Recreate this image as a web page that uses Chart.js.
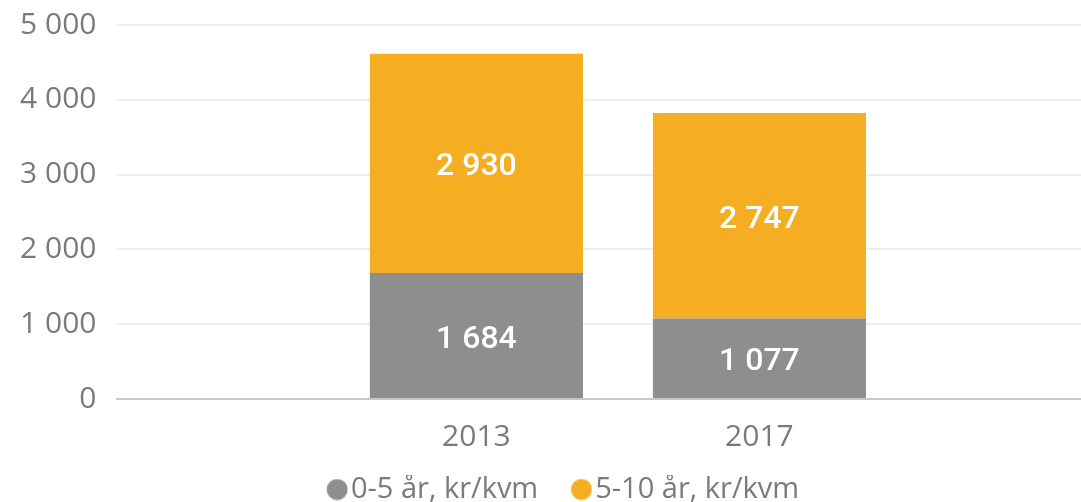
<!DOCTYPE html>
<html>
<head>
<meta charset="utf-8">
<script src="https://cdn.jsdelivr.net/npm/chart.js@4"></script>
<style>
  html, body { margin: 0; padding: 0; background: #fff; }
</style>
</head>
<body>
<canvas id="chart" width="1081" height="502"></canvas>
<script>
// data
const years = [2013, 2017];
const seriesNames = ['0-5 år, kr/kvm', '5-10 år, kr/kvm'];
const young = [1684, 1077];   // 0-5 år
const older = [2930, 2747];   // 5-10 år
const yTicks = [0, 1000, 2000, 3000, 4000, 5000];
const colors = ['#8e8e8e', '#f5ae22'];

const textColor = '#7a7a7a';
const fmt = v => String(v).replace(/\B(?=(\d{3})+(?!\d))/g, ' ');

// legend dot drawn at the right end of a wider canvas, so it sits close to the text
const dotBox = 42.5;
const dotWidth = 66;
const makeDot = color => {
  const c = document.createElement('canvas');
  c.width = dotWidth;
  c.height = 22;
  const g = c.getContext('2d');
  g.fillStyle = color;
  g.beginPath();
  g.arc(dotWidth - 11, 11, 10.5, 0, Math.PI * 2);
  g.fill();
  return c;
};
const dots = colors.map(makeDot);

// white value labels in the middle of each segment
const barLabels = {
  id: 'barLabels',
  afterDatasetsDraw(chart) {
    const ctx = chart.ctx;
    ctx.save();
    ctx.fillStyle = '#ffffff';
    ctx.font = '500 32px Roboto';
    ctx.textAlign = 'center';
    ctx.textBaseline = 'middle';
    chart.data.datasets.forEach((ds, i) => {
      const meta = chart.getDatasetMeta(i);
      meta.data.forEach((bar, j) => {
        const p = bar.getProps(['x', 'y', 'base'], true);
        ctx.fillText(fmt(ds.data[j].y), p.x, (p.y + p.base) / 2 + 4);
      });
    });
    ctx.restore();
  }
};

new Chart(document.getElementById('chart'), {
  type: 'bar',
  data: {
    datasets: [
      {
        label: seriesNames[0],
        data: years.map((yr, i) => ({ x: yr, y: young[i] })),
        backgroundColor: colors[0],
        borderWidth: 0
      },
      {
        label: seriesNames[1],
        data: years.map((yr, i) => ({ x: yr, y: older[i] })),
        backgroundColor: colors[1],
        borderWidth: 0
      }
    ]
  },
  options: {
    responsive: false,
    animation: false,
    categoryPercentage: 1,
    barPercentage: 0.753,
    layout: { padding: { left: 12, right: 0, top: 0, bottom: -12 } },
    plugins: {
      tooltip: { enabled: false },
      legend: {
        position: 'bottom',
        labels: {
          usePointStyle: true,
          pointStyleWidth: dotBox,
          boxHeight: 29,
          padding: 0,
          color: textColor,
          font: { family: 'Open Sans', size: 29 },
          generateLabels(chart) {
            const items = Chart.defaults.plugins.legend.labels.generateLabels(chart);
            items.forEach((it, i) => { it.pointStyle = dots[i]; });
            return items;
          }
        }
      }
    },
    scales: {
      x: {
        type: 'linear',
        stacked: true,
        offset: false,
        min: 2007.92,
        max: 2021.545,
        afterBuildTicks: scale => { scale.ticks = years.map(v => ({ value: v })); },
        grid: { display: false, drawTicks: false },
        border: { color: '#c8c8c8', width: 2 },
        ticks: {
          padding: 8,
          color: textColor,
          font: { family: 'Open Sans', size: 30, lineHeight: 2 },
          callback: v => String(v)
        }
      },
      y: {
        stacked: true,
        min: 0,
        max: 5000,
        afterBuildTicks: scale => { scale.ticks = yTicks.map(v => ({ value: v })); },
        afterFit: scale => { scale.width = 105; },
        grid: {
          drawTicks: false,
          lineWidth: 2,
          color: c => (c.tick && c.tick.value === 0 ? '#c8c8c8' : '#eeeeee')
        },
        border: { display: false },
        ticks: {
          padding: 20.5,
          color: textColor,
          font: { family: 'Open Sans', size: 30, lineHeight: 0.3 },
          callback: v => fmt(v)
        }
      }
    }
  },
  plugins: [barLabels]
});
</script>
</body>
</html>
